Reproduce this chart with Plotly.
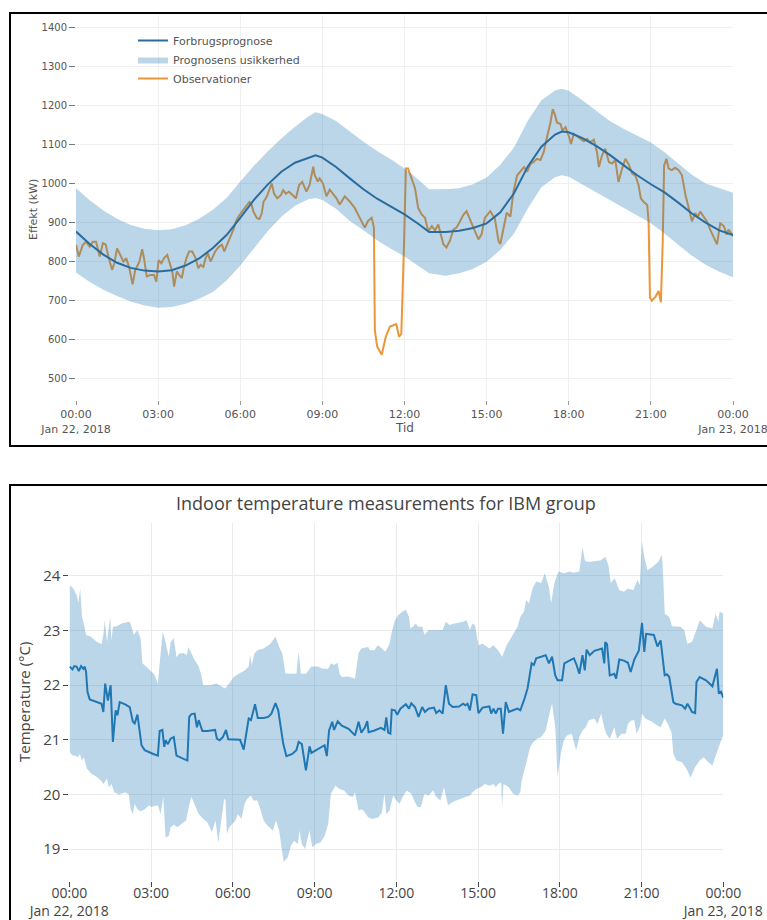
import pandas as pd
import plotly.graph_objects as go

W, H = 767, 920
DAY0 = pd.Timestamp("2018-01-22")

# ---------------------------------------------------------------
# Top chart: load forecast, uncertainty band, observations (kW)
# ---------------------------------------------------------------
fc_hours = [0, 0.5, 1, 1.5, 2, 2.5, 3, 3.5, 4, 4.5,
            5, 5.5, 6, 6.5, 7, 7.5, 8, 8.5, 8.75, 9,
            9.5, 10, 10.5, 11, 11.5, 12, 12.5, 12.9, 13.5, 14,
            14.5, 15, 15.5, 16, 16.5, 17, 17.5, 17.75, 18, 18.5,
            19, 19.5, 20, 20.5, 21, 21.5, 22, 22.5, 23, 23.5, 24]
fc_kw = [877, 845, 818, 797, 784, 777, 775, 778, 790, 808,
         835, 868, 912, 958, 997, 1030, 1053, 1067, 1072, 1066,
         1042, 1013, 985, 961, 942, 921, 897, 876, 876, 879,
         886, 898, 926, 975, 1043, 1094, 1125, 1133, 1131, 1116,
         1096, 1073, 1047, 1021, 998, 977, 951, 923, 900, 880, 868]
band_hi_kw = [988, 957, 931, 910, 894, 884, 880, 883, 893, 910,
              933, 963, 1005, 1045, 1082, 1115, 1145, 1172, 1182, 1178,
              1160, 1133, 1107, 1083, 1062, 1038, 1010, 985, 985, 988,
              998, 1015, 1048, 1092, 1160, 1213, 1238, 1242, 1237, 1213,
              1186, 1160, 1140, 1122, 1105, 1080, 1052, 1022, 1000, 987, 976]
band_lo_kw = [772, 748, 728, 712, 698, 688, 682, 684, 692, 705,
              722, 752, 790, 835, 878, 915, 943, 960, 963, 958,
              935, 904, 880, 855, 833, 813, 790, 770, 764, 770,
              781, 800, 830, 872, 935, 990, 1016, 1021, 1017, 998,
              979, 959, 938, 918, 898, 872, 843, 815, 792, 774, 760]

obs_min = [0, 6, 15, 22, 30, 37, 44, 52, 59, 65,
           71, 79, 84, 90, 97, 104, 110, 117, 124, 130,
           139, 145, 149, 155, 164, 171, 176, 181, 187, 193,
           200, 206, 211, 215, 221, 226, 232, 236, 242, 248,
           255, 262, 268, 273, 279, 284, 289, 295, 300, 305,
           313, 320, 325, 332, 338, 346, 350, 356, 364, 371,
           380, 385, 389, 396, 402, 407, 411, 418, 424, 429,
           434, 441, 449, 454, 460, 467, 475, 482, 489, 496,
           505, 512, 520, 523, 530, 534, 541, 549, 556, 563,
           571, 578, 589, 600, 611, 622, 633, 640, 648, 653,
           655, 660, 670, 679, 688, 697, 702, 708, 713, 719,
           723, 728, 736, 743, 750, 758, 765, 772, 780, 787,
           794, 805, 812, 820, 827, 834, 842, 849, 856, 864,
           871, 882, 889, 896, 908, 918, 926, 930, 937, 944,
           952, 959, 967, 974, 982, 989, 996, 1003, 1010, 1018,
           1025, 1033, 1040, 1045, 1050, 1054, 1062, 1066, 1073, 1080,
           1085, 1091, 1098, 1106, 1113, 1120, 1127, 1135, 1142, 1146,
           1153, 1160, 1168, 1175, 1182, 1189, 1197, 1204, 1211, 1219,
           1226, 1233, 1238, 1244, 1252, 1255, 1258, 1262, 1270, 1277,
           1282, 1286, 1289, 1294, 1299, 1306, 1313, 1321, 1328, 1336,
           1343, 1350, 1357, 1363, 1368, 1376, 1383, 1390, 1398, 1405,
           1412, 1420, 1426, 1430, 1436, 1440]
obs_kw = [843, 813, 843, 851, 838, 851, 851, 813, 847, 844,
          813, 779, 796, 834, 817, 800, 809, 783, 742, 779,
          800, 832, 809, 762, 766, 766, 749, 804, 796, 809,
          817, 792, 775, 736, 775, 766, 758, 783, 809, 826,
          826, 809, 783, 792, 787, 809, 821, 800, 813, 826,
          838, 843, 826, 847, 860, 885, 902, 915, 928, 940,
          953, 945, 928, 912, 909, 923, 953, 966, 983, 1000,
          974, 962, 970, 983, 974, 979, 970, 962, 996, 1004,
          979, 996, 1043, 1022, 1005, 1013, 1001, 967, 984, 975,
          962, 946, 967, 954, 937, 912, 887, 904, 912, 887,
          625, 583, 562, 608, 634, 638, 640, 608, 615, 845,
          1038, 1038, 1013, 988, 937, 920, 912, 878, 891, 880,
          895, 845, 836, 855, 882, 887, 904, 920, 929, 905,
          887, 857, 870, 912, 929, 910, 853, 845, 887, 925,
          915, 980, 1021, 1030, 1042, 1030, 1050, 1055, 1063, 1060,
          1080, 1122, 1156, 1190, 1175, 1156, 1152, 1135, 1144, 1122,
          1101, 1127, 1122, 1114, 1108, 1114, 1105, 1112, 1080, 1042,
          1072, 1089, 1055, 1051, 1060, 1004, 1038, 1063, 1050, 1025,
          1020, 996, 962, 953, 945, 903, 708, 700, 710, 725,
          696, 852, 1046, 1063, 1038, 1034, 1040, 1034, 1021, 970,
          937, 903, 924, 915, 928, 915, 903, 882, 860, 844,
          898, 891, 869, 882, 873, 865]

# ---------------------------------------------------------------
# Bottom chart: indoor temperature, group mean and min/max band (°C)
# ---------------------------------------------------------------
temp_min = [1, 7, 11, 16, 21, 26, 31, 34, 37, 40,
            45, 56, 71, 75, 79, 85, 91, 96, 102, 106,
            111, 123, 133, 140, 144, 150, 159, 166, 176, 185,
            195, 199, 205, 209, 212, 217, 223, 230, 236, 247,
            260, 264, 269, 276, 281, 285, 293, 304, 321, 325,
            331, 338, 345, 350, 362, 376, 384, 395, 400, 409,
            415, 428, 438, 445, 454, 460, 471, 478, 491, 500,
            505, 512, 521, 529, 533, 543, 553, 562, 567, 572,
            579, 583, 591, 600, 615, 629, 637, 643, 651, 656,
            659, 672, 686, 694, 698, 702, 707, 710, 717, 722,
            729, 741, 748, 753, 761, 769, 777, 783, 791, 803,
            808, 815, 822, 829, 836, 844, 858, 867, 872, 877,
            882, 888, 896, 901, 910, 925, 929, 934, 939, 944,
            950, 955, 961, 968, 977, 987, 993, 1001, 1009, 1018,
            1023, 1028, 1039, 1049, 1056, 1063, 1070, 1075, 1085, 1090,
            1101, 1111, 1117, 1123, 1130, 1135, 1139, 1146, 1156, 1165,
            1173, 1178, 1180, 1184, 1190, 1200, 1204, 1211, 1221, 1230,
            1236, 1244, 1254, 1261, 1266, 1270, 1287, 1295, 1302, 1311,
            1316, 1321, 1330, 1335, 1349, 1356, 1361, 1366, 1371, 1378,
            1381, 1388, 1402, 1416, 1426, 1430, 1435, 1440]
temp_c = [22.34, 22.29, 22.35, 22.34, 22.26, 22.35, 22.30, 22.34, 22.24, 21.88,
          21.74, 21.71, 21.66, 21.51, 22.03, 21.72, 22.00, 20.96, 21.54, 21.45,
          21.69, 21.65, 21.60, 21.33, 21.30, 21.46, 20.90, 20.81, 20.77, 20.74,
          20.71, 21.16, 21.18, 20.87, 20.99, 20.92, 21.02, 21.05, 20.71, 20.67,
          20.62, 21.42, 21.47, 21.48, 21.23, 21.36, 21.16, 21.16, 21.18, 21.02,
          20.99, 21.05, 21.18, 21.01, 21.01, 21.00, 20.82, 21.39, 21.36, 21.65,
          21.40, 21.40, 21.42, 21.48, 21.67, 21.54, 20.93, 20.70, 20.74, 20.81,
          20.96, 20.92, 20.44, 20.88, 20.76, 20.81, 20.87, 20.90, 20.70, 21.17,
          21.33, 21.18, 21.34, 21.26, 21.20, 21.08, 21.33, 21.13, 21.23, 21.34,
          21.14, 21.17, 21.22, 21.18, 21.41, 21.13, 21.11, 21.55, 21.54, 21.46,
          21.57, 21.65, 21.57, 21.67, 21.60, 21.42, 21.60, 21.51, 21.57, 21.59,
          21.49, 21.54, 21.48, 22.00, 21.66, 21.60, 21.61, 21.66, 21.63, 21.66,
          21.54, 21.83, 21.82, 21.49, 21.59, 21.61, 21.48, 21.57, 21.48, 21.57,
          21.57, 21.11, 21.69, 21.51, 21.54, 21.57, 21.54, 21.72, 21.94, 22.40,
          22.37, 22.49, 22.52, 22.55, 22.40, 22.52, 22.18, 22.09, 22.09, 22.40,
          22.45, 22.49, 22.37, 22.21, 22.55, 22.27, 22.65, 22.55, 22.63, 22.65,
          22.67, 22.40, 22.79, 22.75, 22.18, 22.21, 22.12, 22.47, 22.45, 22.41,
          22.24, 22.47, 22.63, 23.14, 22.61, 22.94, 22.92, 22.71, 22.82, 22.18,
          22.20, 22.15, 21.69, 21.66, 21.63, 21.57, 21.66, 21.59, 21.51, 21.49,
          22.06, 22.15, 22.09, 21.98, 22.30, 21.86, 21.88, 21.77]

temp_hi_min = [1, 9, 16, 20, 24, 28, 32, 37, 47, 61,
               71, 75, 78, 83, 90, 93, 96, 104, 118, 133,
               137, 142, 150, 157, 161, 169, 176, 182, 188, 195,
               201, 206, 211, 219, 223, 230, 236, 242, 252, 259,
               262, 268, 276, 285, 290, 295, 309, 324, 335, 343,
               352, 362, 373, 386, 395, 398, 402, 407, 414, 428,
               443, 454, 462, 469, 476, 500, 505, 510, 521, 533,
               548, 557, 570, 576, 583, 591, 595, 600, 615, 629,
               637, 643, 658, 662, 672, 679, 686, 696, 705, 710,
               717, 724, 734, 741, 748, 751, 758, 762, 769, 777,
               782, 791, 815, 822, 829, 837, 848, 867, 875, 882,
               887, 893, 901, 910, 925, 934, 944, 953, 963, 972,
               980, 987, 993, 1001, 1006, 1012, 1020, 1028, 1039, 1047,
               1051, 1056, 1061, 1068, 1077, 1089, 1101, 1111, 1123, 1130,
               1135, 1139, 1149, 1171, 1180, 1187, 1192, 1201, 1211, 1221,
               1230, 1242, 1251, 1256, 1261, 1266, 1273, 1285, 1297, 1305,
               1308, 1311, 1321, 1327, 1345, 1354, 1361, 1371, 1381, 1388,
               1402, 1416, 1423, 1429, 1432, 1440]
temp_hi_c = [23.83, 23.77, 23.65, 23.51, 23.77, 23.25, 23.13, 22.92, 22.89, 22.79,
             22.75, 22.92, 23.19, 22.79, 23.25, 22.82, 23.07, 23.08, 23.14, 23.16,
             23.07, 22.92, 23.01, 22.86, 22.40, 22.34, 22.30, 22.24, 22.18, 22.03,
             22.58, 22.98, 22.82, 22.52, 22.78, 22.86, 22.51, 22.58, 22.59, 22.55,
             22.70, 22.59, 22.46, 22.34, 22.21, 22.00, 22.00, 22.03, 21.97, 21.94,
             22.03, 22.15, 22.21, 22.27, 22.34, 22.55, 22.37, 22.57, 22.64, 22.67,
             22.76, 22.89, 22.70, 22.58, 22.21, 22.21, 22.61, 22.21, 22.21, 22.34,
             22.34, 22.30, 22.30, 22.40, 22.37, 22.41, 22.21, 22.15, 22.16, 22.12,
             22.59, 22.67, 22.70, 22.64, 22.64, 22.73, 22.69, 22.61, 22.76, 22.98,
             23.19, 23.28, 23.35, 23.38, 23.25, 23.04, 23.08, 23.13, 23.07, 23.07,
             22.92, 23.01, 23.01, 23.01, 23.16, 23.10, 23.13, 23.16, 23.19, 23.01,
             23.13, 23.10, 22.73, 22.76, 22.67, 22.73, 22.64, 22.52, 22.73, 22.86,
             22.95, 23.07, 23.25, 23.35, 23.56, 23.50, 23.77, 23.90, 23.87, 24.05,
             23.93, 23.80, 23.50, 23.87, 24.08, 24.05, 24.08, 24.06, 24.08, 24.53,
             24.29, 24.26, 24.26, 24.29, 24.35, 24.20, 23.87, 23.96, 23.74, 23.71,
             23.77, 23.74, 23.93, 23.83, 24.63, 24.35, 24.11, 24.17, 24.26, 24.39,
             23.93, 23.31, 23.25, 23.08, 23.07, 23.01, 22.76, 22.79, 23.01, 23.19,
             23.07, 23.04, 23.31, 23.16, 23.35, 23.31]

temp_lo_min = [1, 7, 13, 18, 23, 28, 32, 39, 49, 61,
               71, 75, 83, 87, 93, 99, 109, 123, 131, 135,
               140, 144, 150, 157, 166, 176, 180, 195, 201, 207,
               212, 219, 223, 230, 238, 247, 257, 264, 269, 276,
               285, 295, 304, 314, 322, 328, 331, 341, 344, 347,
               352, 360, 366, 371, 379, 386, 392, 400, 405, 414,
               419, 428, 436, 448, 455, 462, 469, 472, 481, 488,
               495, 503, 507, 512, 519, 524, 529, 535, 543, 553,
               562, 570, 576, 586, 595, 605, 615, 624, 629, 637,
               643, 648, 658, 667, 681, 688, 694, 698, 705, 713,
               720, 727, 734, 743, 753, 761, 767, 774, 782, 791,
               801, 808, 817, 825, 834, 844, 853, 863, 872, 882,
               888, 896, 906, 915, 925, 934, 939, 944, 951, 953,
               956, 968, 977, 987, 993, 996, 1003, 1011, 1015, 1022,
               1030, 1039, 1049, 1058, 1063, 1070, 1075, 1082, 1089, 1096,
               1106, 1116, 1123, 1130, 1137, 1144, 1156, 1163, 1171, 1178,
               1182, 1190, 1200, 1206, 1216, 1225, 1230, 1238, 1244, 1249,
               1257, 1261, 1268, 1283, 1295, 1302, 1311, 1318, 1326, 1330,
               1337, 1349, 1359, 1368, 1378, 1388, 1397, 1407, 1416, 1423,
               1430, 1438, 1440]
temp_lo_c = [20.77, 20.71, 20.71, 20.68, 20.74, 20.62, 20.68, 20.47, 20.38, 20.32,
             20.24, 20.19, 20.29, 20.13, 20.19, 20.04, 20.00, 20.04, 20.00, 19.73,
             19.64, 19.83, 19.73, 19.69, 19.73, 19.80, 19.77, 19.80, 19.64, 19.95,
             19.21, 19.24, 19.40, 19.45, 19.40, 19.46, 19.52, 19.80, 19.95, 19.80,
             19.64, 19.55, 19.49, 19.31, 19.52, 19.12, 19.34, 19.92, 19.89, 19.28,
             19.40, 19.47, 19.52, 19.64, 19.55, 19.83, 19.92, 19.98, 19.89, 19.89,
             19.77, 19.52, 19.43, 19.34, 19.52, 19.34, 18.91, 18.76, 18.85, 19.06,
             19.15, 19.09, 19.34, 19.09, 19.00, 19.18, 19.34, 19.03, 19.09, 19.12,
             19.24, 19.46, 20.01, 20.16, 20.10, 20.07, 19.98, 19.95, 20.04, 19.70,
             19.73, 19.70, 19.58, 19.55, 19.58, 19.67, 20.01, 19.64, 19.70, 19.98,
             19.89, 19.83, 19.95, 20.07, 20.01, 19.86, 19.77, 19.77, 20.01, 19.98,
             20.07, 19.95, 19.89, 20.13, 19.80, 19.86, 19.89, 19.92, 19.95, 19.98,
             20.04, 20.10, 20.13, 20.19, 20.16, 20.19, 20.13, 20.19, 20.22, 19.77,
             20.19, 20.13, 20.01, 19.98, 20.04, 20.25, 20.47, 20.74, 20.87, 20.96,
             21.02, 21.05, 21.17, 21.51, 21.66, 21.23, 20.32, 20.74, 20.99, 21.08,
             21.11, 20.81, 21.05, 21.17, 21.23, 21.36, 21.39, 21.29, 21.48, 21.23,
             21.11, 21.02, 21.23, 21.02, 21.11, 21.11, 21.29, 21.36, 21.36, 21.11,
             21.26, 21.48, 21.39, 21.33, 21.26, 21.23, 21.39, 21.29, 21.14, 20.74,
             20.62, 20.59, 20.47, 20.31, 20.50, 20.62, 20.68, 20.59, 20.53, 20.71,
             20.87, 21.05, 21.05]

TOP_FONT = "DejaVu Sans"
BOT_FONT = "Open Sans"


def px(x):
    return x / W


def py(y):
    return 1 - y / H


def times(minutes):
    return [DAY0 + pd.Timedelta(minutes=m) for m in minutes]


fc_t = [DAY0 + pd.Timedelta(hours=h) for h in fc_hours]

fig = go.Figure()

# observations first, so the translucent band tints them where they overlap
fig.add_trace(go.Scatter(
    x=times(obs_min), y=obs_kw, mode="lines", name="Observationer",
    line=dict(color="rgb(236,150,55)", width=2), legendrank=3,
    xaxis="x", yaxis="y"
))
fig.add_trace(go.Scatter(
    x=fc_t + fc_t[::-1], y=band_hi_kw + band_lo_kw[::-1],
    mode="lines", fill="toself", fillcolor="rgba(31,119,180,0.3)",
    line=dict(width=0, color="rgba(31,119,180,0.3)"),
    name="Prognosens usikkerhed", legendrank=2, xaxis="x", yaxis="y"
))
fig.add_trace(go.Scatter(
    x=fc_t, y=fc_kw, mode="lines", name="Forbrugsprognose",
    line=dict(color="#2b6c9f", width=2), legendrank=1,
    xaxis="x", yaxis="y"
))

# bottom chart
fig.add_trace(go.Scatter(
    x=times(temp_hi_min) + times(temp_lo_min)[::-1],
    y=temp_hi_c + temp_lo_c[::-1],
    mode="lines", fill="toself", fillcolor="rgba(31,119,180,0.3)",
    line=dict(width=0), showlegend=False, xaxis="x2", yaxis="y2"
))
fig.add_trace(go.Scatter(
    x=times(temp_min), y=temp_c, mode="lines",
    line=dict(color="#1f77b4", width=2), showlegend=False,
    xaxis="x2", yaxis="y2"
))

day_range = ["2018-01-22 00:00", "2018-01-23 00:00"]
three_h = 3 * 3600 * 1000

fig.update_layout(
    width=W, height=H,
    margin=dict(l=0, r=0, t=0, b=0, autoexpand=False),
    paper_bgcolor="white", plot_bgcolor="white",
    font=dict(family=BOT_FONT, color="#444"),
    xaxis=dict(
        domain=[px(76), px(733)], anchor="y", type="date", range=day_range,
        automargin=False, ticklabeloverflow="allow",
        tick0="2018-01-22", dtick=three_h, showgrid=True, gridcolor="#f0f0f0",
        zeroline=False, ticks="outside", ticklen=4, tickcolor="#999",
        tickfont=dict(family=TOP_FONT, size=11, color="#555")
    ),
    yaxis=dict(
        domain=[py(400), py(15)], anchor="x", range=[446, 1431], dtick=100,
        automargin=False,
        showgrid=True, gridcolor="#f0f0f0", zeroline=False,
        ticks="outside", ticklen=6, tickcolor="#777",
        tickfont=dict(family=TOP_FONT, size=10, color="#555")
    ),
    xaxis2=dict(
        domain=[px(69.3), px(723.3)], anchor="y2", type="date", range=day_range,
        automargin=False, ticklabeloverflow="allow", ticklabelstandoff=-6,
        tick0="2018-01-22", dtick=three_h, showgrid=True, gridcolor="#ebebeb",
        zeroline=False, ticks="outside", ticklen=5, tickcolor="#444",
        tickfont=dict(family=BOT_FONT, size=14, color="#444")
    ),
    yaxis2=dict(
        domain=[py(881), py(523)], anchor="x2", range=[18.414, 24.97], dtick=1,
        automargin=False,
        showgrid=True, gridcolor="#ebebeb", zeroline=False,
        ticks="outside", ticklen=5, tickcolor="#444",
        tickfont=dict(family=BOT_FONT, size=15, color="#444")
    ),
    legend=dict(
        x=px(133), y=py(26), xanchor="left", yanchor="top",
        bgcolor="rgba(0,0,0,0)", font=dict(family=TOP_FONT, size=11, color="#555")
    ),
    annotations=[
        dict(text="Effekt (kW)", x=px(33), y=py(210), xref="paper", yref="paper",
             textangle=-90, showarrow=False, xanchor="center", yanchor="middle",
             font=dict(family=TOP_FONT, size=11, color="#555")),
        dict(text="Tid", x=px(404), y=py(428), xref="paper", yref="paper",
             showarrow=False, xanchor="center", yanchor="middle",
             font=dict(family=TOP_FONT, size=12, color="#555")),
        dict(text="Indoor temperature measurements for IBM group",
             x=px(386), y=py(503), xref="paper", yref="paper",
             showarrow=False, xanchor="center", yanchor="middle",
             font=dict(family=BOT_FONT, size=18, color="#444")),
        dict(text="Temperature (°C)", x=px(24), y=py(702), xref="paper", yref="paper",
             textangle=-90, showarrow=False, xanchor="center", yanchor="middle",
             font=dict(family=BOT_FONT, size=15, color="#444")),
    ],
    shapes=[
        dict(type="rect", xref="paper", yref="paper",
             x0=px(10), x1=px(780), y0=py(446), y1=py(13),
             line=dict(color="black", width=2), fillcolor="rgba(0,0,0,0)"),
        dict(type="rect", xref="paper", yref="paper",
             x0=px(10), x1=px(780), y0=py(935), y1=py(485),
             line=dict(color="black", width=2), fillcolor="rgba(0,0,0,0)"),
    ],
)

fig.write_html("out.html", config={"displayModeBar": False},
               post_script="document.body.style.margin='0px';")
